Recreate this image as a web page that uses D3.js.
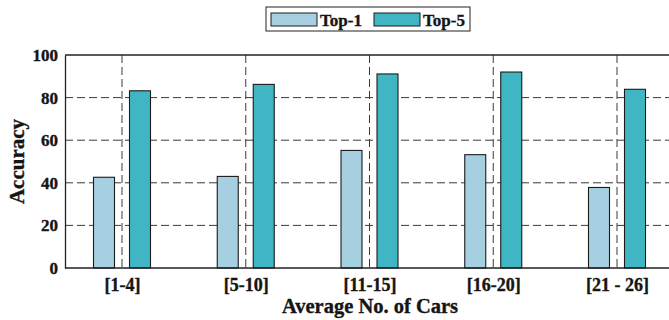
<!DOCTYPE html>
<html>
<head>
<meta charset="utf-8">
<script src="https://cdn.jsdelivr.net/npm/d3@7/dist/d3.min.js"></script>
<style>
  html, body { margin: 0; padding: 0; background: #fff; }
  svg { display: block; }
  text {
    font-family: "Liberation Serif", "Times New Roman", serif;
    font-weight: bold;
    fill: #151515;
    stroke: #151515;
    stroke-width: 0.35px;
  }
</style>
</head>
<body>
<svg id="chart" width="669" height="320"></svg>
<script>
// Accuracy by average number of cars in the scene
const categories = ["[1-4]", "[5-10]", "[11-15]", "[16-20]", "[21 - 26]"];
const series = ["Top-1", "Top-5"];
const top1 = [42.6, 43.0, 55.2, 53.2, 37.8];
const top5 = [83.2, 86.2, 91.1, 92.0, 83.9];
const yTicks = [0, 20, 40, 60, 80, 100];
const colors = { "Top-1": "#a7cfe2", "Top-5": "#40b6c4" };

const svg = d3.select("#chart");
const plot = { left: 65, top: 55, bottom: 268, right: 680 };

// category positions (1..n) on a linear axis
const x = d3.scaleLinear().domain([1, categories.length]).range([122, 617]);
const y = d3.scaleLinear().domain([0, 100]).range([plot.bottom, plot.top]);

// side-by-side offsets of the two series within a group
const offset = d3.scaleBand().domain(series).range([-28.5, 28.5]).paddingInner(0.4167).paddingOuter(0);

const rows = categories.map((c, i) => ({ cat: c, i: i + 1, "Top-1": top1[i], "Top-5": top5[i] }));

// horizontal dashed grid
svg.append("g")
  .selectAll("line")
  .data(yTicks.filter(t => t > 0 && t < 100))
  .join("line")
  .attr("x1", plot.left).attr("x2", plot.right)
  .attr("y1", d => y(d)).attr("y2", d => y(d))
  .attr("stroke", "#3a3a3a").attr("stroke-width", 1)
  .attr("stroke-dasharray", "8,4");

// vertical dashed grid at each category
svg.append("g")
  .selectAll("line")
  .data(rows)
  .join("line")
  .attr("x1", d => x(d.i)).attr("x2", d => x(d.i))
  .attr("y1", plot.top).attr("y2", plot.bottom)
  .attr("stroke", "#3a3a3a").attr("stroke-width", 1)
  .attr("stroke-dasharray", "8,4");

// bars
const groups = svg.append("g")
  .selectAll("g")
  .data(rows)
  .join("g")
  .attr("transform", d => `translate(${x(d.i)},0)`);

groups.selectAll("rect")
  .data(d => series.map(s => ({ s, v: d[s] })))
  .join("rect")
  .attr("x", d => offset(d.s))
  .attr("width", offset.bandwidth())
  .attr("y", d => y(d.v))
  .attr("height", d => y(0) - y(d.v))
  .attr("fill", d => colors[d.s])
  .attr("stroke", "#1a1a1a")
  .attr("stroke-width", 1.1);

// frame: top border and axes
svg.append("line")
  .attr("x1", plot.left).attr("x2", plot.right)
  .attr("y1", plot.top).attr("y2", plot.top)
  .attr("stroke", "#222").attr("stroke-width", 1.3);

const yAxis = d3.axisLeft(y).tickValues(yTicks).tickSize(0).tickPadding(7);
svg.append("g")
  .attr("transform", `translate(${plot.left},0)`)
  .call(yAxis)
  .call(g => g.select(".domain").attr("stroke", "#222").attr("stroke-width", 1.3))
  .call(g => g.selectAll("text").style("font-size", "17px").attr("fill", "#151515"));

const xAxis = d3.axisBottom(x).tickValues(rows.map(d => d.i))
  .tickFormat(i => categories[i - 1]).tickSize(0).tickPadding(10);
svg.append("g")
  .attr("transform", `translate(0,${plot.bottom})`)
  .call(xAxis)
  .call(g => g.select(".domain").remove())
  .call(g => g.selectAll("text").style("font-size", "18px").attr("fill", "#151515"));

svg.append("line")
  .attr("x1", plot.left).attr("x2", plot.right)
  .attr("y1", plot.bottom).attr("y2", plot.bottom)
  .attr("stroke", "#222").attr("stroke-width", 1.3);

// axis titles
svg.append("text")
  .attr("x", 370).attr("y", 313)
  .attr("text-anchor", "middle")
  .style("font-size", "20.5px")
  .text("Average No. of Cars");

svg.append("text")
  .attr("transform", `translate(24,${(plot.top + plot.bottom) / 2}) rotate(-90)`)
  .attr("text-anchor", "middle")
  .style("font-size", "21px")
  .text("Accuracy");

// legend
const legend = svg.append("g").attr("transform", "translate(266,7)");
legend.append("rect")
  .attr("width", 204).attr("height", 24)
  .attr("fill", "#fff").attr("stroke", "#222").attr("stroke-width", 1);
const items = legend.selectAll("g.item")
  .data(series)
  .join("g")
  .attr("class", "item")
  .attr("transform", (d, i) => `translate(${5 + i * 103},6)`);
items.append("rect")
  .attr("width", 46).attr("height", 13)
  .attr("fill", d => colors[d]).attr("stroke", "#1a1a1a").attr("stroke-width", 1);
items.append("text")
  .attr("x", 49).attr("y", 12.5)
  .style("font-size", "17px")
  .text(d => d);
</script>
</body>
</html>
